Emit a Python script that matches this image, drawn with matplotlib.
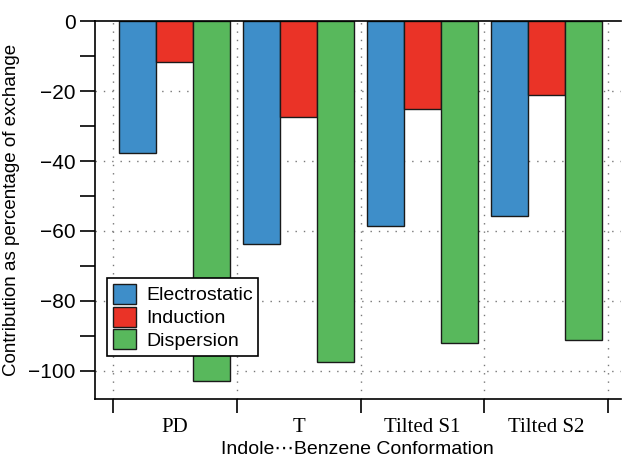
import matplotlib
matplotlib.use("Agg")
import matplotlib.pyplot as plt
import numpy as np

categories = ["PD", "T", "Tilted S1", "Tilted S2"]
series_names = ["Electrostatic", "Induction", "Dispersion"]
electrostatic = [-37.7, -63.7, -58.5, -55.7]
induction = [-11.8, -27.3, -25.1, -21.1]
dispersion = [-102.9, -97.4, -92.0, -91.1]
colors = ["#3e8ec9", "#ea3327", "#58b85c"]

fig = plt.figure(figsize=(6.22, 4.59), dpi=100)
ax = fig.add_axes([0.1527, 0.131, 0.845, 0.823])

sans = ["Liberation Sans", "DejaVu Sans"]
serif = ["Liberation Serif", "DejaVu Serif"]

n = len(categories)
bw = 0.298
gap = 0.053
data = [electrostatic, induction, dispersion]
for j, (vals, c, name) in enumerate(zip(data, colors, series_names)):
    x = np.arange(n) + gap + j * bw
    ax.bar(x, vals, width=bw, align="edge", color=c, edgecolor="#1a1a1a",
           linewidth=1.0, label=name, zorder=3)

ax.set_xlim(-0.145, 4.1)
ax.set_ylim(-108, 0)

# grid
for yv in [-20, -40, -60, -80, -100]:
    ax.axhline(yv, color="#777777", linestyle=(0, (1, 5)), linewidth=1.0, zorder=1)
for xv in range(n + 1):
    ax.axvline(xv, color="#777777", linestyle=(0, (1, 5)), linewidth=1.0, zorder=1)

ax.set_yticks([0, -20, -40, -60, -80, -100])
ax.set_yticklabels(["0", "\u221220", "\u221240", "\u221260", "\u221280", "\u2212100"],
                   fontfamily=sans, fontsize=15)
ax.set_yticks([-10, -30, -50, -70, -90], minor=True)
ax.tick_params(axis="y", which="major", length=11, width=1.2, direction="out", pad=3)
ax.tick_params(axis="y", which="minor", length=11, width=1.2, direction="out")

ax.set_xticks(range(n + 1))
ax.set_xticklabels([])
ax.set_xticks(np.arange(n) + 0.5, minor=True)
ax.set_xticklabels(categories, minor=True, fontfamily=serif, fontsize=15)
ax.tick_params(axis="x", which="major", length=10, width=1.2, direction="out")
ax.tick_params(axis="x", which="minor", length=0, pad=14)

for s in ["left", "bottom", "top"]:
    ax.spines[s].set_linewidth(1.2)
ax.spines["right"].set_visible(False)
ax.spines["top"].set_zorder(5)

ax.set_ylabel("Contribution as percentage of exchange", fontfamily=sans, fontsize=13.5, labelpad=6)
ax.set_xlabel("Indole\u22efBenzene Conformation", fontfamily=sans, fontsize=14, labelpad=3)

leg = ax.legend(loc="lower left", bbox_to_anchor=(0.023, 0.114), prop={"family": sans, "size": 14},
                frameon=True, fancybox=False, edgecolor="black", framealpha=1,
                handlelength=1.2, handleheight=1.2, handletextpad=0.5,
                borderpad=0.3, labelspacing=0.12, borderaxespad=0)
leg.get_frame().set_linewidth(1.2)
leg.set_zorder(10)

fig.savefig("out.png", dpi=100)
